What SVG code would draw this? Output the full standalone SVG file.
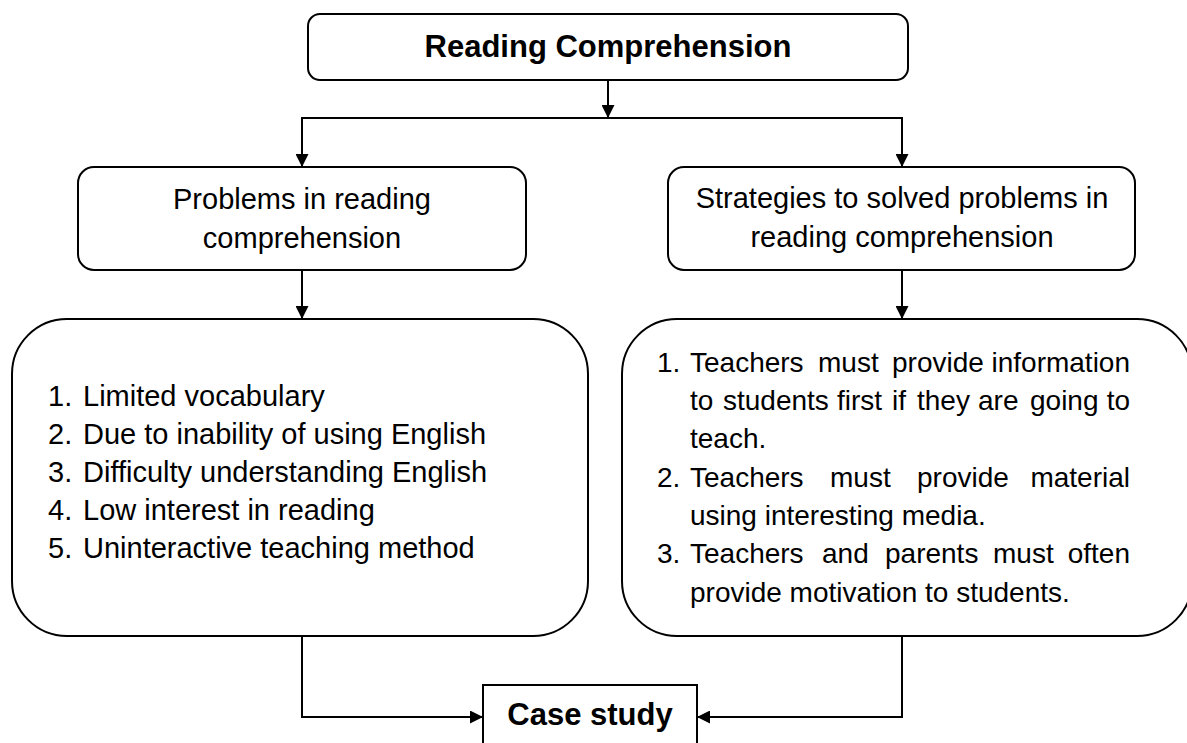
<svg xmlns="http://www.w3.org/2000/svg" width="1187" height="743" viewBox="0 0 1187 743">
  <style>
    .box { fill: #ffffff; stroke: #000000; stroke-width: 2; }
    .wire { fill: none; stroke: #000000; stroke-width: 2; }
    .title { font-family: "Liberation Sans", Arial, sans-serif; font-weight: bold; font-size: 31px; fill: #000000; text-anchor: middle; }
    .head { font-family: "Liberation Sans", Arial, sans-serif; font-size: 29px; fill: #000000; text-anchor: middle; }
    .list { font-family: "Liberation Sans", Arial, sans-serif; font-size: 29px; fill: #000000; }
    .just { font-family: "Liberation Sans", Arial, sans-serif; font-size: 28px; fill: #000000; }
    .end { text-anchor: end; }
  </style>
  <defs>
    <marker id="arrow" viewBox="0 0 10 10" refX="10" refY="5" markerUnits="userSpaceOnUse" markerWidth="14" markerHeight="13" orient="auto">
      <path d="M0,0 L10,5 L0,10 z" fill="#000000"/>
    </marker>
  </defs>
  <rect width="1187" height="743" fill="#ffffff"/>

  <!-- connectors -->
  <g id="connectors">
    <line class="wire" x1="608" y1="80" x2="608" y2="118" marker-end="url(#arrow)"/>
    <polyline class="wire" points="302,167 302,118 902,118 902,167" marker-end="url(#arrow)"/>
    <line class="wire" x1="302" y1="118" x2="302" y2="167" marker-end="url(#arrow)"/>
    <line class="wire" x1="302" y1="270" x2="302" y2="319" marker-end="url(#arrow)"/>
    <line class="wire" x1="902" y1="270" x2="902" y2="319" marker-end="url(#arrow)"/>
    <polyline class="wire" points="302,636 302,717 483,717" marker-end="url(#arrow)"/>
    <polyline class="wire" points="902,636 902,717 697,717" marker-end="url(#arrow)"/>
  </g>

  <!-- top node -->
  <g id="reading-comprehension">
    <rect class="box" x="308" y="14" width="600" height="66" rx="12"/>
    <text class="title" x="608" y="57">Reading Comprehension</text>
  </g>

  <!-- second level -->
  <g id="problems">
    <rect class="box" x="78" y="167" width="448" height="103" rx="16"/>
    <text class="head" x="302" y="209">Problems in reading</text>
    <text class="head" x="302" y="248">comprehension</text>
  </g>
  <g id="strategies">
    <rect class="box" x="668" y="167" width="467" height="103" rx="16"/>
    <text class="head" x="902" y="208">Strategies to solved problems in</text>
    <text class="head" x="902" y="247">reading comprehension</text>
  </g>

  <!-- problem list -->
  <g id="problem-list">
    <rect class="box" x="12" y="319" width="576" height="317" rx="55"/>
    <text class="list" x="48" y="406">1.</text><text class="list" x="83" y="406">Limited vocabulary</text>
    <text class="list" x="48" y="444">2.</text><text class="list" x="83" y="444">Due to inability of using English</text>
    <text class="list" x="48" y="482">3.</text><text class="list" x="83" y="482">Difficulty understanding English</text>
    <text class="list" x="48" y="520">4.</text><text class="list" x="83" y="520">Low interest in reading</text>
    <text class="list" x="48" y="558">5.</text><text class="list" x="83" y="558">Uninteractive teaching method</text>
  </g>

  <!-- strategy list, justified lines -->
  <g id="strategy-list">
    <rect class="box" x="622" y="319" width="570" height="317" rx="55"/>
    <text class="just" x="657" y="372">1.</text>
    <text class="just" x="690" y="372">Teachers</text>
    <text class="just" x="818" y="372">must</text>
    <text class="just" x="892" y="372">provide</text>
    <text class="just end" x="1130" y="372">information</text>

    <text class="just" x="690" y="410">to</text>
    <text class="just" x="723" y="410">students</text>
    <text class="just" x="837" y="410">first</text>
    <text class="just" x="892" y="410">if</text>
    <text class="just" x="917" y="410">they</text>
    <text class="just" x="978" y="410">are</text>
    <text class="just" x="1030" y="410">going</text>
    <text class="just end" x="1130" y="410">to</text>

    <text class="just" x="690" y="448">teach.</text>

    <text class="just" x="657" y="487">2.</text>
    <text class="just" x="690" y="487">Teachers</text>
    <text class="just" x="830" y="487">must</text>
    <text class="just" x="917" y="487">provide</text>
    <text class="just end" x="1130" y="487">material</text>

    <text class="just" x="690" y="525">using interesting media.</text>

    <text class="just" x="657" y="563">3.</text>
    <text class="just" x="690" y="563">Teachers</text>
    <text class="just" x="822" y="563">and</text>
    <text class="just" x="885" y="563">parents</text>
    <text class="just" x="993" y="563">must</text>
    <text class="just end" x="1130" y="563">often</text>

    <text class="just" x="690" y="602">provide motivation to students.</text>
  </g>

  <!-- bottom node -->
  <g id="case-study">
    <rect class="box" x="483" y="685" width="214" height="80"/>
    <text class="title" x="590" y="725">Case study</text>
  </g>
</svg>
